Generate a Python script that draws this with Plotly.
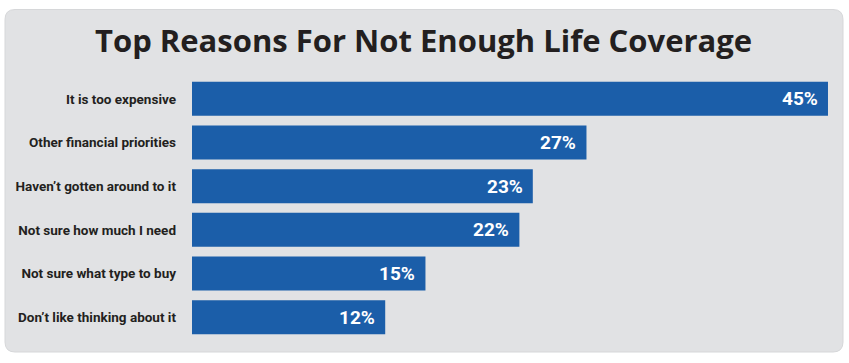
import plotly.graph_objects as go

categories = ["It is too expensive", "Other financial priorities", "Haven\u2019t gotten around to it",
              "Not sure how much I need", "Not sure what type to buy", "Don\u2019t like thinking about it"]
values = [45, 27, 23, 22, 15, 12]
value_labels = ["45%", "27%", "23%", "22%", "15%", "12%"]
title = "Top Reasons For Not Enough Life Coverage"

BAR_COLOR = "#1b5ea9"
PANEL_COLOR = "#e1e2e4"
TEXT_COLOR = "#231f20"
COND = "Roboto, Liberation Sans Narrow, sans-serif"

W, H = 849, 363
ML, MR, MT, MB = 192, 19, 77, 24
PW, PH = W - ML - MR, H - MT - MB
BASE = -2.4  # bars start slightly left of the zero point, as in the source
XMAX = 45.15

fig = go.Figure(go.Bar(
    y=categories,
    x=[v - BASE for v in values],
    base=BASE,
    orientation="h",
    marker=dict(color=BAR_COLOR, line=dict(width=0)),
    hoverinfo="skip",
))

for c, v, t in zip(categories, values, value_labels):
    fig.add_annotation(x=v, y=c, text=t, showarrow=False, xanchor="right", xshift=-8,
                       font=dict(family=COND, size=19, color="white", weight="bold"))

def px2x(px):
    return (px - ML) / PW

def py2y(py):
    return (H - MB - py) / PH

x0, x1, y0, y1 = px2x(5), px2x(843), py2y(352), py2y(9.5)
rx, ry = 10 / PW, 10 / PH
path = (f"M {x0+rx},{y1} L {x1-rx},{y1} Q {x1},{y1} {x1},{y1-ry} "
        f"L {x1},{y0+ry} Q {x1},{y0} {x1-rx},{y0} L {x0+rx},{y0} Q {x0},{y0} {x0},{y0+ry} "
        f"L {x0},{y1-ry} Q {x0},{y1} {x0+rx},{y1} Z")
fig.add_shape(type="path", path=path, xref="paper", yref="paper", fillcolor=PANEL_COLOR,
              line=dict(color="#d6d7d9", width=1), layer="below")

fig.add_annotation(x=px2x(423), y=py2y(40), xref="paper", yref="paper", text=title,
                   showarrow=False, xanchor="center", yanchor="middle",
                   font=dict(family="Open Sans, Roboto, sans-serif", size=31, color=TEXT_COLOR, weight="bold"))

fig.update_layout(
    width=W, height=H,
    margin=dict(l=ML, r=MR, t=MT, b=MB, autoexpand=False),
    paper_bgcolor="white", plot_bgcolor="rgba(0,0,0,0)",
    bargap=0.22,
    showlegend=False,
    xaxis=dict(range=[BASE, XMAX], visible=False, fixedrange=True),
    yaxis=dict(autorange="reversed", showgrid=False, zeroline=False, showline=False,
               ticks="", ticklabelstandoff=15, fixedrange=True,
               tickfont=dict(family=COND, size=13.5, color=TEXT_COLOR, weight="bold")),
)

fig.write_html("out.html", config={"displayModeBar": False},
               post_script="document.body.style.margin='0';document.body.style.overflow='hidden';")
